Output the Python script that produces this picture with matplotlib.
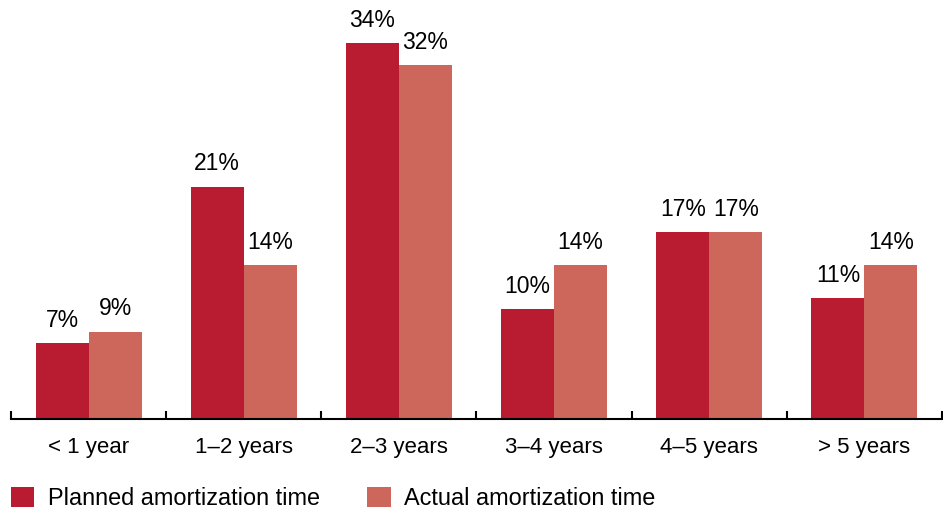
import numpy as np
import matplotlib.pyplot as plt

categories = ["< 1 year", "1\u20132 years", "2\u20133 years", "3\u20134 years", "4\u20135 years", "> 5 years"]
planned = [6.9, 21, 34, 9.9, 16.9, 10.9]
actual = [7.9, 13.9, 32, 13.9, 16.9, 13.9]
planned_labels = ["7%", "21%", "34%", "10%", "17%", "11%"]
actual_labels = ["9%", "14%", "32%", "14%", "17%", "14%"]

plt.rcParams['font.family'] = ['Liberation Sans', 'DejaVu Sans']

c_planned = "#b91c31"
c_actual = "#cd675c"

fig = plt.figure(figsize=(9.43, 5.12), dpi=100)
ax = fig.add_axes([11 / 943, 93 / 512, 931 / 943, 415 / 512])

x = np.arange(len(categories))
w = 0.342
b1 = ax.bar(x - w / 2, planned, width=w, color=c_planned, label="Planned amortization time")
b2 = ax.bar(x + w / 2, actual, width=w, color=c_actual, label="Actual amortization time")

# value labels above each bar
for bars, labs in [(b1, planned_labels), (b2, actual_labels)]:
    for rect, lab in zip(bars, labs):
        ax.annotate(lab, (rect.get_x() + rect.get_width() / 2, rect.get_height()),
                    xytext=(0, 8), textcoords="offset points", ha="center", va="bottom", fontsize=16.5)

ax.set_xlim(-0.5, len(categories) - 0.5)
ax.set_ylim(0, 37.5)
ax.set_xticks(x)
ax.set_xticklabels(categories, fontsize=16)
ax.set_xticks(np.arange(len(categories) + 1) - 0.5, minor=True)
ax.tick_params(axis="x", which="major", length=0, pad=13)
ax.tick_params(axis="x", which="minor", direction="in", length=6, width=1.5)
ax.set_yticks([])
for s in ["left", "top", "right"]:
    ax.spines[s].set_visible(False)
ax.spines["bottom"].set_linewidth(1.5)

fig.legend(handles=[b1, b2], loc="lower left", bbox_to_anchor=(11 / 943, 2 / 512), ncol=2, frameon=False,
           fontsize=16.9, handlelength=1.0, handleheight=0.94, handletextpad=0.58, columnspacing=2.0,
           borderpad=0, borderaxespad=0)

fig.savefig("out.png", dpi=100)
